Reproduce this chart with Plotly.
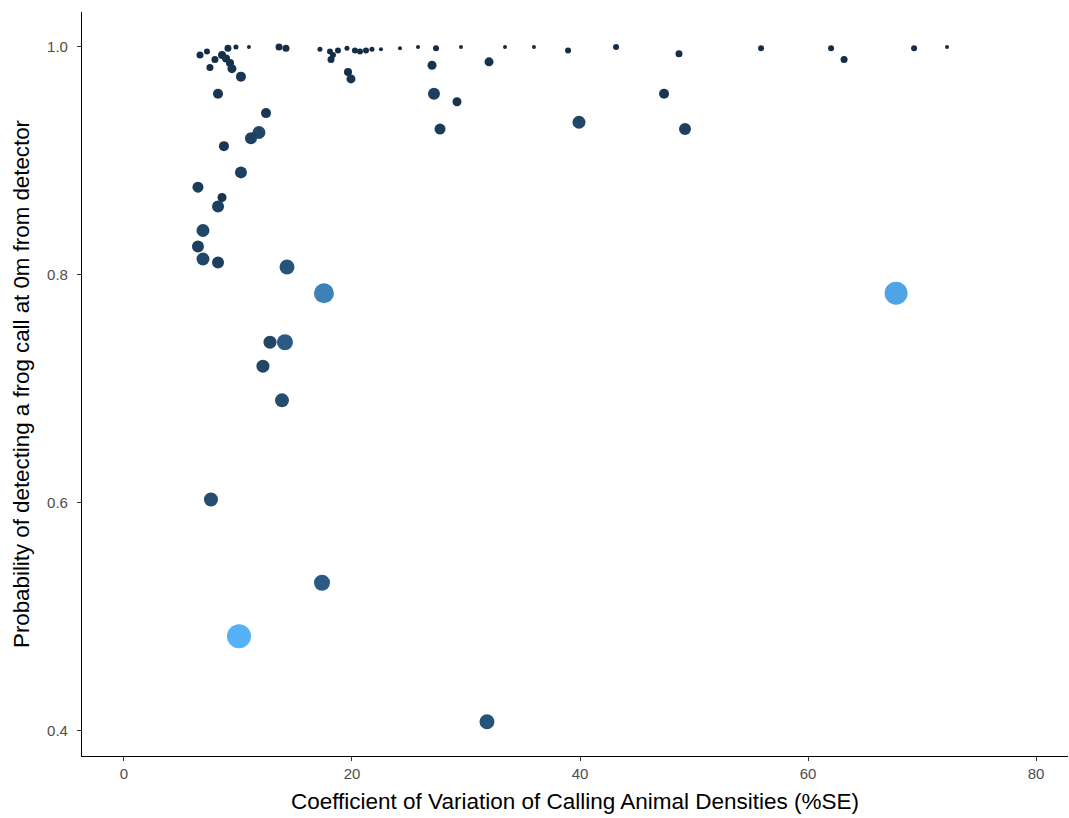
import numpy as np
import plotly.graph_objects as go

# Coefficient of variation of calling animal densities (%SE)
cv_density = [
    6.67, 7.28, 7.54, 7.98, 8.60, 9.12, 8.95, 9.30, 9.47, 9.82, 10.26, 10.96, 8.25,
    13.60, 14.21, 17.19, 18.07, 18.16, 18.33, 18.77, 19.56, 20.26, 20.70, 21.23, 21.75, 22.54,
    19.65, 19.91, 24.21, 25.79, 27.37, 29.56, 33.42, 35.96, 38.95, 43.16, 48.68, 55.88, 62.02,
    63.16, 69.30, 72.19, 27.02, 32.02,
    27.19, 29.21, 27.72, 39.91, 49.21, 47.37, 12.46, 11.84, 11.14, 8.77, 10.26, 6.49, 8.60,
    8.25, 6.93, 6.49, 6.93, 8.25, 14.30, 17.54, 67.72, 12.81, 14.12, 12.19, 13.86, 7.63,
    17.37, 10.09, 31.84,
]
# Probability of detecting a frog call at 0 m from detector
p_detect = [
    0.993, 0.996, 0.982, 0.989, 0.993, 0.999, 0.990, 0.986, 0.981, 1.000, 0.974, 1.000, 0.959,
    1.000, 0.999, 0.998, 0.996, 0.989, 0.993, 0.997, 0.999, 0.997, 0.996, 0.997, 0.998, 0.998,
    0.978, 0.972, 0.999, 1.000, 0.999, 1.000, 1.000, 1.000, 0.997, 1.000, 0.994, 0.999, 0.999,
    0.989, 0.999, 1.000, 0.984, 0.987,
    0.959, 0.952, 0.928, 0.934, 0.928, 0.959, 0.942, 0.925, 0.920, 0.913, 0.890, 0.877, 0.868,
    0.860, 0.839, 0.825, 0.814, 0.811, 0.807, 0.784, 0.784, 0.741, 0.741, 0.720, 0.690, 0.603,
    0.530, 0.483, 0.408,
]
# Uncertainty of the detection probability (mapped to colour and size)
p_se = [
    0.0225, 0.010, 0.0225, 0.0225, 0.040, 0.0225, 0.040, 0.040, 0.0625, 0.0025, 0.090, 0.000, 0.090,
    0.0225, 0.0225, 0.0025, 0.010, 0.0225, 0.010, 0.010, 0.0025, 0.010, 0.010, 0.010, 0.0025, 0.000,
    0.040, 0.0625, 0.000, 0.000, 0.010, 0.000, 0.000, 0.000, 0.010, 0.010, 0.0225, 0.010, 0.010,
    0.0225, 0.010, 0.000, 0.0625, 0.0625,
    0.160, 0.0625, 0.1225, 0.2025, 0.160, 0.090, 0.090, 0.2025, 0.160, 0.090, 0.160, 0.1225, 0.0625,
    0.160, 0.2025, 0.160, 0.2025, 0.160, 0.3025, 0.640, 0.900, 0.2025, 0.360, 0.2025, 0.250, 0.250,
    0.360, 1.000, 0.300,
]

x_ticks = [0, 20, 40, 60, 80]
y_ticks = [0.4, 0.6, 0.8, 1.0]

se = np.array(p_se)
t = (se - se.min()) / (se.max() - se.min())
diam = 4 + 20 * np.sqrt(t)

fig = go.Figure(go.Scatter(
    x=cv_density, y=p_detect, mode="markers",
    marker=dict(size=diam, color=t, cmin=0, cmax=1,
                colorscale=[[0, "#132B43"], [1, "#56B1F7"]],
                showscale=False, line=dict(width=0), opacity=1),
    hoverinfo="x+y",
))

axis_common = dict(
    showgrid=False, zeroline=False, showline=True, linecolor="black", linewidth=1.1,
    ticks="outside", ticklen=4, tickcolor="#333333", tickwidth=1.1,
    tickfont=dict(family="Liberation Sans, Arial, sans-serif", size=15, color="#4D4D4D"),
    mirror=False, automargin=False,
)

fig.update_layout(
    width=1069, height=818,
    margin=dict(l=82, r=1, t=12, b=62),
    plot_bgcolor="white", paper_bgcolor="white",
    showlegend=False,
    font=dict(family="Liberation Sans, Arial, sans-serif", color="black"),
    xaxis=dict(range=[-3.68, 82.8], tickvals=x_ticks,
               title=dict(text="Coefficient of Variation of Calling Animal Densities (%SE)",
                          font=dict(size=22.5, color="black"), standoff=12),
               **axis_common),
    yaxis=dict(range=[0.378, 1.0307], tickvals=y_ticks, tickformat=".1f",
               ticklabelstandoff=6,
               title=dict(text="Probability of detecting a frog call at 0m from detector",
                          font=dict(size=22.3, color="black"), standoff=11),
               **axis_common),
)

fig.write_html(
    "out.html",
    config={"displayModeBar": False},
    post_script="document.body.style.margin='0';document.body.style.overflow='hidden';",
)
